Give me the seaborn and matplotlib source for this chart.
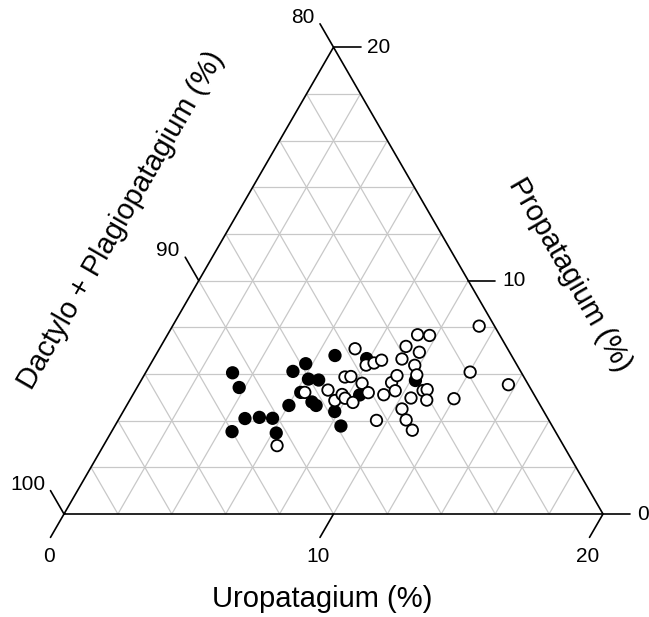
import numpy as np
import pandas as pd
import seaborn as sns
import matplotlib
matplotlib.use("Agg")
import matplotlib.pyplot as plt

# Uropatagium (%) and Propatagium (%) per specimen, the rest is Dactylo + Plagiopatagium
filled_uro = [3.23, 3.79, 5.44, 5.75, 6.18, 6.58, 6.18, 6.80, 7.03, 6.02, 4.67, 5.18, 5.69, 4.47, 6.14,
              6.66, 7.85, 8.39, 8.42, 7.90, 10.18]
filled_pro = [6.05, 5.42, 6.11, 6.44, 5.78, 5.74, 5.21, 4.80, 4.65, 4.65, 4.09, 4.14, 4.10, 3.53, 3.47,
              6.79, 4.39, 3.77, 5.10, 6.66, 5.72]
open_uro = [6.44, 6.33, 7.14, 7.49, 7.70, 7.62, 7.76, 7.95, 8.33, 7.26, 8.02, 8.27, 8.49, 8.26, 8.69,
            9.59, 9.31, 9.34, 9.39, 9.65, 9.22, 9.10, 10.29, 10.68, 9.28, 9.74, 9.72, 9.83, 10.11, 10.68,
            10.81, 11.02, 10.39, 11.13, 11.38, 12.03, 13.72, 12.00]
open_pro = [2.93, 5.21, 5.31, 5.87, 5.89, 4.86, 5.12, 4.96, 4.78, 7.08, 6.38, 6.47, 6.59, 5.60, 5.20,
            4.01, 5.11, 5.63, 5.93, 5.28, 6.64, 7.18, 4.50, 4.03, 7.68, 7.65, 6.93, 6.37, 5.96, 5.29,
            5.33, 4.88, 4.97, 3.59, 8.05, 6.08, 5.54, 4.94]

uro_ticks = [0, 10, 20]
pro_ticks = [0, 10, 20]
dp_ticks = [100, 90, 80]
grid_steps = [2, 4, 6, 8, 10, 12, 14, 16, 18]

SQ = np.sqrt(3) / 2

def to_xy(u, p):
    u = np.asarray(u, dtype=float)
    p = np.asarray(p, dtype=float)
    return u + p / 2, p * SQ

df = pd.DataFrame({
    "uro": filled_uro + open_uro,
    "pro": filled_pro + open_pro,
    "group": ["filled"] * len(filled_uro) + ["open"] * len(open_uro),
})
df["x"], df["y"] = to_xy(df["uro"], df["pro"])

sns.set_theme(style="white")
plt.rcParams["font.family"] = ["Liberation Sans", "DejaVu Sans"]
plt.rcParams["text.color"] = "black"

fig = plt.figure(figsize=(6.49, 6.17), dpi=100)
ax = fig.add_axes([0, 0, 1, 1])
ax.axis("off")
pxu = 539 / 20  # pixels per % unit
ax.set_xlim(-64 / pxu, (649 - 64) / pxu)
ax.set_ylim(-(617 - 514) / pxu, 514 / pxu)

# grid
gc = "#c8c8c8"
for v in grid_steps:
    x, y = to_xy([0, 20 - v], [v, v])
    ax.plot(x, y, color=gc, lw=0.9, zorder=1)
    x, y = to_xy([v, v], [0, 20 - v])
    ax.plot(x, y, color=gc, lw=0.9, zorder=1)
    x, y = to_xy([v, 0], [0, v])
    ax.plot(x, y, color=gc, lw=0.9, zorder=1)

# outline
x, y = to_xy([0, 20, 0, 0], [0, 0, 20, 0])
ax.plot(x, y, color="black", lw=1.2, zorder=2, solid_joinstyle="miter")

tl = 27 / pxu
fs = 15
# bottom axis ticks (Uropatagium)
for t in uro_ticks:
    x0, y0 = to_xy(t * 1.0, 0.0)
    ax.plot([x0, x0 - 0.5 * tl], [y0, y0 - SQ * tl], color="black", lw=1.2)
    ax.text(x0 - 15.5 / pxu, y0 - 42 / pxu, str(t), ha="center", va="center", fontsize=fs)
# right axis ticks (Propatagium)
for t in pro_ticks:
    x0, y0 = to_xy(20.0 - t, t * 1.0)
    ax.plot([x0, x0 + tl], [y0, y0], color="black", lw=1.2)
    ax.text(x0 + 34 / pxu, y0, str(t), ha="left", va="center", fontsize=fs)
# left axis ticks (Dactylo + Plagiopatagium)
for t in dp_ticks:
    x0, y0 = to_xy(0.0, 100.0 - t)
    ax.plot([x0, x0 - 0.5 * tl], [y0, y0 + SQ * tl], color="black", lw=1.2)
    ax.text(x0 - 19 / pxu, y0 + 30 / pxu, str(t), ha="right", va="center", fontsize=fs)

sns.scatterplot(data=df, x="x", y="y", hue="group", palette={"filled": "black", "open": "white"},
                edgecolor="black", linewidth=1.3, s=68, legend=False, ax=ax, zorder=3)

def px(xp, yp):
    return (xp - 64) / pxu, (514 - yp) / pxu

ax.text(*px(322, 599), "Uropatagium (%)", ha="center", va="center", fontsize=21)
ax.text(*px(121, 220), "Dactylo + Plagiopatagium (%)", ha="center", va="center", fontsize=21,
        rotation=60, rotation_mode="anchor")
ax.text(*px(570, 275), "Propatagium (%)", ha="center", va="center", fontsize=21,
        rotation=-60, rotation_mode="anchor")

plt.savefig("out.png", dpi=100)
